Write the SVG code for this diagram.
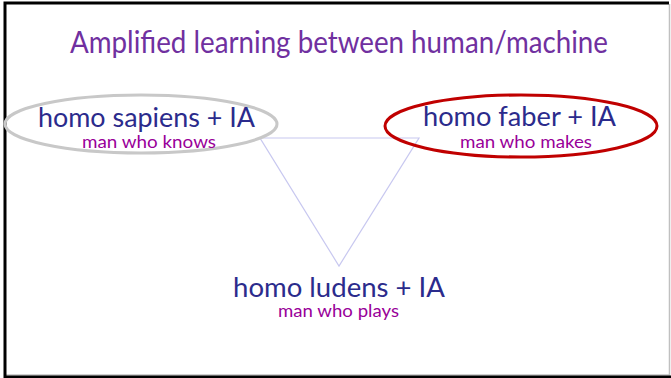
<svg xmlns="http://www.w3.org/2000/svg" width="671" height="378" viewBox="0 0 671 378">
<style>
.main{font-family:"Lato","Open Sans",sans-serif;fill:#2B2B8C;font-size:27px}
.sub{font-family:"Lato","Open Sans",sans-serif;fill:#990099;font-size:17px}
.title{font-family:"Lato","Open Sans",sans-serif;fill:#7030A0;font-size:30px}
</style>
<rect x="0" y="0" width="671" height="378" fill="#ffffff"/>
<line x1="669.5" y1="4" x2="669.5" y2="376" stroke="#c0c0c0" stroke-width="1.5"/>
<line x1="6" y1="375" x2="670" y2="375" stroke="#c0c0c0" stroke-width="1.5"/>
<path d="M5 378 V3 H669 M4 377 H671" fill="none" stroke="#000" stroke-width="3"/>
<text class="title" x="70" y="53" textLength="538" lengthAdjust="spacingAndGlyphs">Amplified learning between human/machine</text>
<g id="connectors">
<polygon points="260,138 419,138 339,266" fill="none" stroke="#c8c8f0" stroke-width="1.2"/>
</g>
<g id="sapiens">
<ellipse cx="141" cy="124" rx="136" ry="29" fill="none" stroke="#c8c8c8" stroke-width="3"/>
<text class="main" x="38" y="127" textLength="217" lengthAdjust="spacingAndGlyphs">homo sapiens + IA</text>
<text class="sub" x="82" y="148" textLength="134" lengthAdjust="spacingAndGlyphs">man who knows</text>
</g>
<g id="faber">
<ellipse cx="521" cy="126" rx="136" ry="31" fill="none" stroke="#C00000" stroke-width="3"/>
<text class="main" x="423" y="126" textLength="193" lengthAdjust="spacingAndGlyphs">homo faber + IA</text>
<text class="sub" x="460" y="148" textLength="132" lengthAdjust="spacingAndGlyphs">man who makes</text>
</g>
<g id="ludens">
<text class="main" x="233" y="297" textLength="212" lengthAdjust="spacingAndGlyphs">homo ludens + IA</text>
<text class="sub" x="278" y="317" textLength="121" lengthAdjust="spacingAndGlyphs">man who plays</text>
</g>
</svg>
